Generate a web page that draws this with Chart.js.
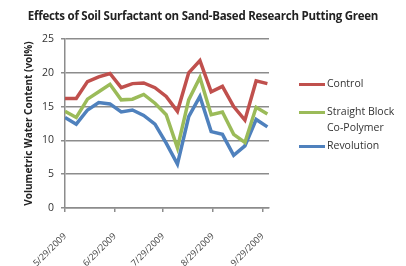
<!DOCTYPE html>
<html>
<head>
<meta charset="utf-8">
<script src="https://cdn.jsdelivr.net/npm/chart.js@4/dist/chart.umd.min.js"></script>
<style>
    html, body { margin: 0; padding: 0; background: #fff; }
    #wrap { position: relative; width: 406px; height: 266px; overflow: hidden; }
    #chart { position: absolute; left: 0; top: 0; }
    #title {
        position: absolute; left: 0; top: 8px; width: 406px; text-align: center;
        font-family: "Open Sans", sans-serif; font-weight: bold; font-size: 11.5px;
        color: #222; white-space: nowrap; letter-spacing: -0.25px;
    }
    .leg { position: absolute; left: 299px; font-family: "Open Sans", sans-serif; font-size: 10.5px; color: #333; line-height: 16px; }
    .leg .ln { position: absolute; left: 0; width: 26px; height: 3px; }
    .leg .tx { position: absolute; left: 28px; white-space: nowrap; }
</style>
</head>
<body>
<div id="wrap">
    <canvas id="chart" width="406" height="266"></canvas>
    <div id="title">Effects of Soil Surfactant on Sand-Based Research Putting Green</div>
    <div class="leg" style="top:83px"><div class="ln" style="background:#c0504d"></div><div class="tx" style="top:-8px">Control</div></div>
    <div class="leg" style="top:111px"><div class="ln" style="background:#9bbb59"></div><div class="tx" style="top:-8px">Straight Block<br>Co-Polymer</div></div>
    <div class="leg" style="top:145px"><div class="ln" style="background:#4f81bd"></div><div class="tx" style="top:-8px">Revolution</div></div>
</div>
<script>
// Sampling dates (weekly)
const dates = ['2009-05-29', '2009-06-05', '2009-06-12', '2009-06-19', '2009-06-26', '2009-07-03',
    '2009-07-10', '2009-07-17', '2009-07-24', '2009-07-31', '2009-08-07', '2009-08-14',
    '2009-08-21', '2009-08-28', '2009-09-04', '2009-09-11', '2009-09-18', '2009-09-25', '2009-10-02'];

// Volumetric water content (vol%)
const control = [16.2, 16.2, 18.7, 19.4, 19.9, 17.8, 18.4, 18.5, 17.8, 16.5, 14.3, 20.0, 21.8, 17.2, 18.0, 15.0, 13.0, 18.8, 18.4];
const straightBlock = [14.3, 13.4, 16.1, 17.2, 18.3, 16.0, 16.1, 16.8, 15.5, 13.8, 8.9, 16.0, 19.3, 13.8, 14.2, 10.9, 9.7, 14.9, 13.9];
const revolution = [13.4, 12.4, 14.5, 15.6, 15.4, 14.2, 14.5, 13.7, 12.4, 9.6, 6.5, 13.5, 16.5, 11.3, 10.9, 7.8, 9.2, 13.1, 12.0];

// Axis tick labels
const xTickDates = ['2009-05-29', '2009-06-29', '2009-07-29', '2009-08-29', '2009-09-29'];
const xTickLabels = ['5/29/2009', '6/29/2009', '7/29/2009', '8/29/2009', '9/29/2009'];
const yTicks = [0, 5, 10, 15, 20, 25];

const startDay = Date.parse(dates[0]);
const dayOf = d => Math.round((Date.parse(d) - startDay) / 86400000);
const toPoints = arr => arr.map((v, i) => ({ x: dayOf(dates[i]), y: v }));
const xTickDays = xTickDates.map(dayOf);

const gridColor = '#8c8c8c';

new Chart(document.getElementById('chart'), {
    type: 'line',
    data: {
        datasets: [
            { label: 'Control', data: toPoints(control), borderColor: '#c0504d' },
            { label: 'Straight Block Co-Polymer', data: toPoints(straightBlock), borderColor: '#9bbb59' },
            { label: 'Revolution', data: toPoints(revolution), borderColor: '#4f81bd' }
        ]
    },
    options: {
        responsive: false,
        animation: false,
        layout: { padding: { left: 19, right: 137, top: 39, bottom: 0 } },
        elements: {
            line: { borderWidth: 3.5, tension: 0, borderJoinStyle: 'miter' },
            point: { radius: 0 }
        },
        plugins: {
            legend: { display: false },
            title: { display: false },
            tooltip: { enabled: false }
        },
        scales: {
            x: {
                type: 'linear',
                min: 0,
                max: 127,
                afterFit: scale => { scale.height = 58; },
                afterBuildTicks: scale => { scale.ticks = xTickDays.map(v => ({ value: v })); },
                grid: { display: true, drawOnChartArea: false, color: gridColor, lineWidth: 1.5, tickLength: 4 },
                border: { color: gridColor, width: 1.5 },
                ticks: {
                    autoSkip: false,
                    maxRotation: 45,
                    minRotation: 45,
                    padding: 19,
                    color: '#444',
                    font: { family: 'Open Sans', size: 9 },
                    callback: value => xTickLabels[xTickDays.indexOf(value)] || ''
                }
            },
            y: {
                min: 0,
                max: 25,
                afterFit: scale => { scale.width = 46; },
                afterBuildTicks: scale => { scale.ticks = yTicks.map(v => ({ value: v })); },
                grid: { color: gridColor, lineWidth: 1.5, tickLength: 4 },
                border: { color: gridColor, width: 1.5 },
                title: {
                    display: true,
                    text: 'Volumetric Water Content (vol%)',
                    color: '#222',
                    font: { family: 'Open Sans', size: 10, weight: 'bold' },
                    padding: { top: 4, bottom: 0 }
                },
                ticks: {
                    padding: 7,
                    color: '#333',
                    font: { family: 'Open Sans', size: 10.5 }
                }
            }
        }
    }
});
</script>
</body>
</html>
